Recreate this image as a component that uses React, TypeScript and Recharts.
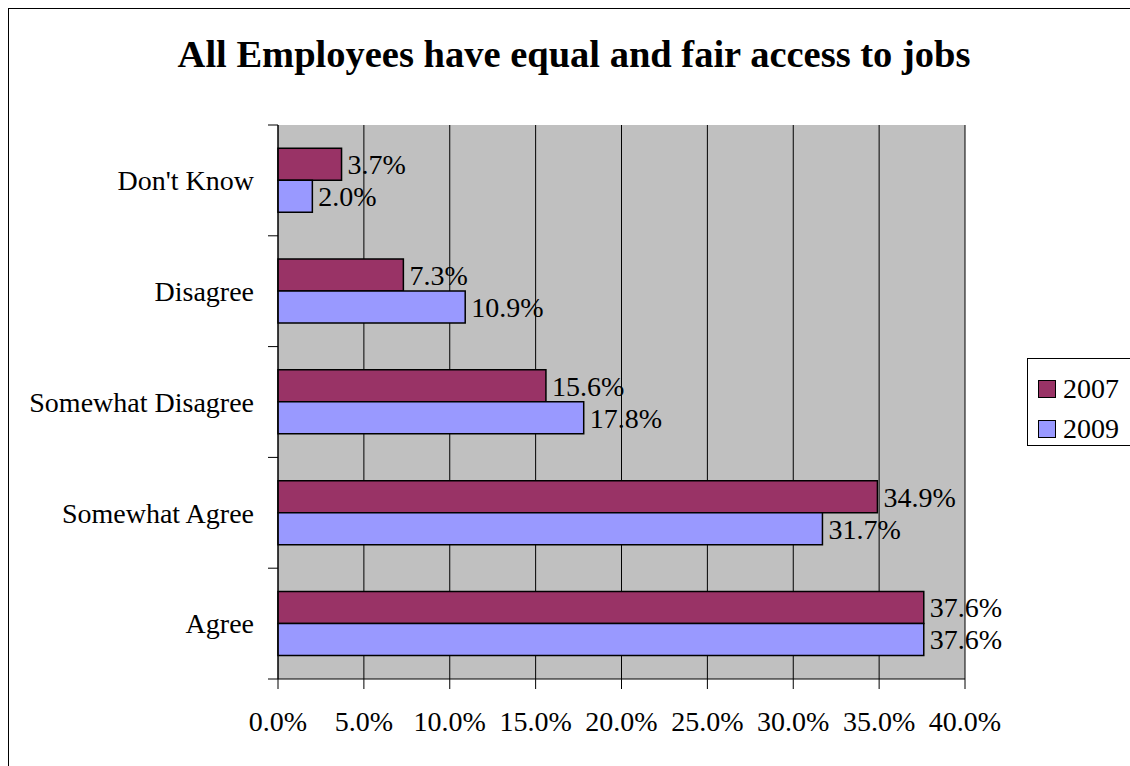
import { BarChart, Bar, XAxis, YAxis, CartesianGrid, Legend, LabelList } from 'recharts';

const CATEGORIES = ["Don't Know", 'Disagree', 'Somewhat Disagree', 'Somewhat Agree', 'Agree'];
const Y2007 = [3.7, 7.3, 15.6, 34.9, 37.6];
const Y2009 = [2.0, 10.9, 17.8, 31.7, 37.6];
const X_TICKS = [0, 5, 10, 15, 20, 25, 30, 35, 40];

const SERIF = "'Liberation Serif', 'Times New Roman', serif";
const C2007 = '#993366';
const C2009 = '#9999FF';

// chart geometry (chart coordinates)
const W = 1130;
const H = 790;
const PLOT_LEFT = 269;
const PLOT_TOP = 116;
const PLOT_BOTTOM = 670;
const PLOT_RIGHT = 956;
const BAND = (PLOT_BOTTOM - PLOT_TOP) / CATEGORIES.length;

const data = CATEGORIES.map((cat, i) => ({ cat, y2007: Y2007[i], y2009: Y2009[i] }));

const pct = (v: number) => `${Number(v).toFixed(1)}%`;

// category labels with tick marks on the band boundaries, like Excel
function CatTick(props: any) {
  const { y, payload, index } = props;
  const top = y - BAND / 2;
  return (
    <g>
      <line x1={PLOT_LEFT - 10} x2={PLOT_LEFT} y1={top} y2={top} stroke="#000" />
      {index === CATEGORIES.length - 1 && (
        <line x1={PLOT_LEFT - 10} x2={PLOT_LEFT} y1={top + BAND} y2={top + BAND} stroke="#000" />
      )}
      <text x={PLOT_LEFT - 24} y={y} dy="0.35em" textAnchor="end" fontSize={28} fontFamily={SERIF} fill="#000">
        {payload.value}
      </text>
    </g>
  );
}

function LegendBox(props: any) {
  const items = props.payload || [];
  return (
    <div style={{ border: '1px solid #000', background: '#fff', width: 130, height: 88, boxSizing: 'border-box', paddingTop: 10 }}>
      {items.map((it: any) => (
        <div key={it.value} style={{ display: 'flex', alignItems: 'center', height: 40, paddingLeft: 10 }}>
          <span style={{ width: 16, height: 16, background: it.color, border: '1.5px solid #000', display: 'inline-block', marginRight: 7 }} />
          <span style={{ fontFamily: SERIF, fontSize: 28, color: '#000', lineHeight: '28px' }}>{it.value}</span>
        </div>
      ))}
    </div>
  );
}

export default function App() {
  return (
    <div style={{ position: 'fixed', left: 8, top: 8, width: 1122, height: 758, overflow: 'hidden' }}>
      <div style={{ position: 'relative', width: 1140, height: 800, border: '1px solid #000', boxSizing: 'border-box', background: '#fff' }}>
        <div
          style={{
            position: 'absolute',
            left: 0,
            top: 26,
            width: 1130,
            textAlign: 'center',
            fontFamily: SERIF,
            fontWeight: 'bold',
            fontSize: 38.5,
            lineHeight: '38px',
            color: '#000',
            zIndex: 1,
          }}
        >
          All Employees have equal and fair access to jobs
        </div>
        <BarChart
          width={W}
          height={H}
          data={data}
          layout="vertical"
          margin={{ top: PLOT_TOP, right: W - PLOT_RIGHT, bottom: 60, left: 0 }}
          barCategoryGap="21%"
          barGap={0}
        >
          <CartesianGrid fill="#C0C0C0" fillOpacity={1} horizontal={false} stroke="#000" strokeOpacity={1} />
          <XAxis
            type="number"
            domain={[0, 40]}
            ticks={X_TICKS}
            tickFormatter={(v) => pct(v)}
            height={H - 60 - PLOT_BOTTOM}
            tickSize={10}
            tickMargin={22}
            axisLine={{ stroke: '#000' }}
            tickLine={{ stroke: '#000' }}
            tick={{ fontSize: 28, fontFamily: SERIF, fill: '#000' }}
          />
          <XAxis
            xAxisId="top"
            orientation="top"
            type="number"
            domain={[0, 40]}
            height={0}
            tick={false}
            tickLine={false}
            axisLine={{ stroke: '#808080' }}
          />
          <YAxis
            type="category"
            dataKey="cat"
            width={PLOT_LEFT}
            axisLine={{ stroke: '#000' }}
            tickLine={false}
            tick={<CatTick />}
            interval={0}
          />
          <YAxis
            yAxisId="right"
            orientation="right"
            type="category"
            dataKey="cat"
            width={0}
            tick={false}
            tickLine={false}
            axisLine={{ stroke: '#808080', strokeWidth: 2 }}
          />
          <Legend
            layout="horizontal"
            verticalAlign="middle"
            align="center"
            content={<LegendBox />}
            wrapperStyle={{ left: 1018, top: 349, width: 130, height: 88 }}
          />
          <Bar dataKey="y2007" name="2007" fill={C2007} stroke="#000" strokeWidth={1.5} isAnimationActive={false}>
            <LabelList dataKey="y2007" position="right" offset={6} formatter={(v: any) => pct(v)} fontSize={28} fontFamily={SERIF} fill="#000" />
          </Bar>
          <Bar dataKey="y2009" name="2009" fill={C2009} stroke="#000" strokeWidth={1.5} isAnimationActive={false}>
            <LabelList dataKey="y2009" position="right" offset={6} formatter={(v: any) => pct(v)} fontSize={28} fontFamily={SERIF} fill="#000" />
          </Bar>
        </BarChart>
      </div>
    </div>
  );
}
